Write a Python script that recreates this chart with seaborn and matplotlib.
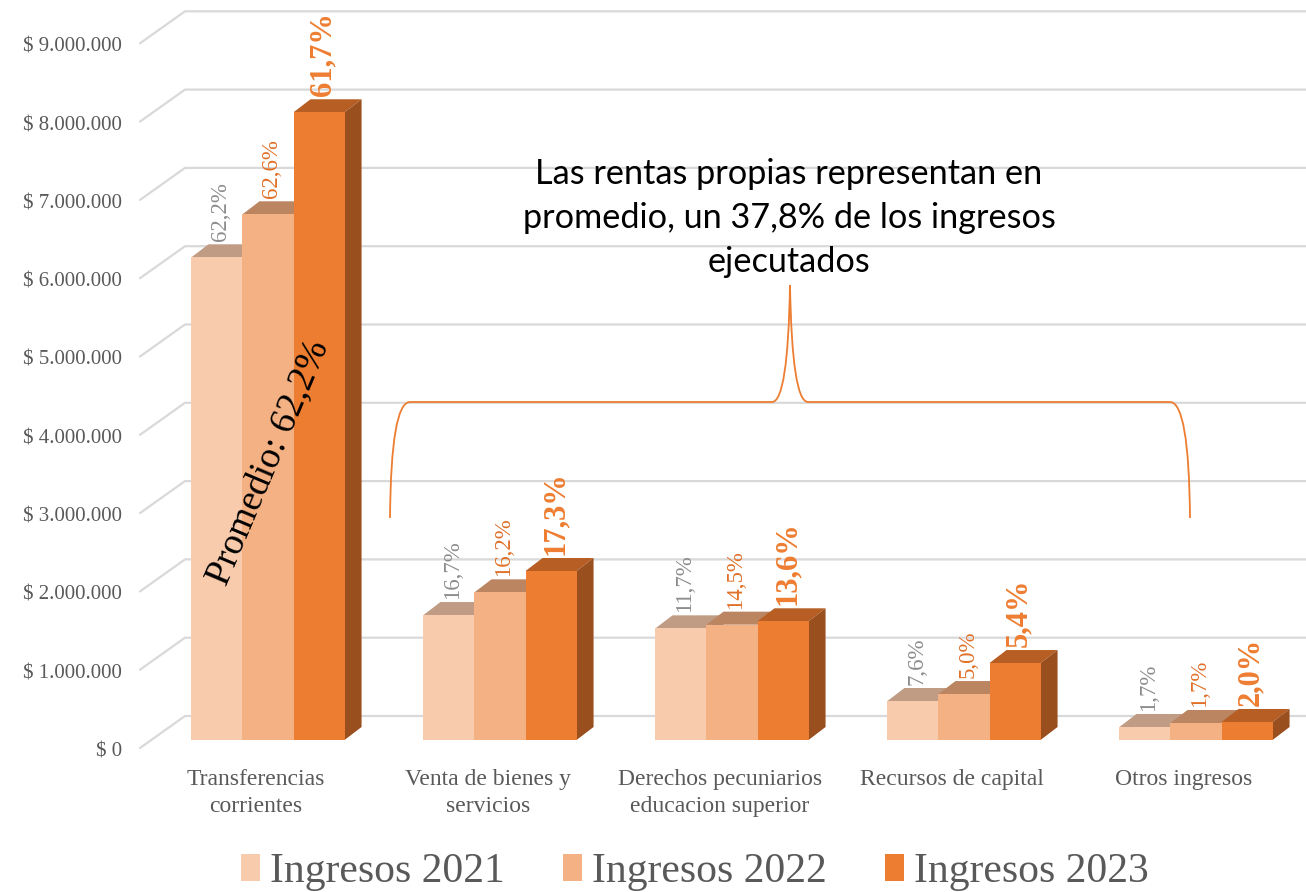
import numpy as np
import pandas as pd
import matplotlib
matplotlib.use("Agg")
import matplotlib.pyplot as plt
import matplotlib.transforms as mtransforms
from matplotlib.patches import Polygon, PathPatch, Patch
from matplotlib.path import Path
import seaborn as sns

# datos (pesos)
categorias = ["Transferencias\ncorrientes", "Venta de bienes y\nservicios",
              "Derechos pecuniarios\neducacion superior", "Recursos de capital",
              "Otros ingresos"]
series = ["Ingresos 2021", "Ingresos 2022", "Ingresos 2023"]
ingresos_2021 = [6165000, 1596000, 1426000, 498000, 166000]
ingresos_2022 = [6714000, 1886000, 1473000, 587000, 217000]
ingresos_2023 = [8017000, 2158000, 1516000, 983000, 230000]
pct_2021 = ["62,2%", "16,7%", "11,7%", "7,6%", "1,7%"]
pct_2022 = ["62,6%", "16,2%", "14,5%", "5,0%", "1,7%"]
pct_2023 = ["61,7%", "17,3%", "13,6%", "5,4%", "2,0%"]
ticks_y = [0, 1000000, 2000000, 3000000, 4000000, 5000000, 6000000, 7000000, 8000000, 9000000]

color_frente = ["#F8CBAD", "#F4B183", "#ED7D31"]
color_arriba = ["#C09C85", "#BB8562", "#B65E24"]
color_lado = ["#B08A70", "#A8744F", "#9A4F1F"]
color_etiqueta = ["#8C8C8C", "#E07028", "#ED7D31"]

df = pd.DataFrame({
    "Categoria": categorias * 3,
    "Serie": [s for s in series for _ in categorias],
    "Valor": ingresos_2021 + ingresos_2022 + ingresos_2023,
})

sns.set_style("white")
plt.rcParams["font.family"] = ["Liberation Serif", "DejaVu Serif"]

W, H = 1306, 892
fig = plt.figure(figsize=(W / 100, H / 100), dpi=100)
ax = fig.add_axes([140 / W, (H - 740) / H, 1166 / W, 9 * 78.3 / H])

sns.barplot(data=df, x="Categoria", y="Valor", hue="Serie", palette=color_frente,
            width=0.66, saturation=1, dodge=True, legend=False, ax=ax)

xmin, xmax = -128 / 232, 4 + 110 / 232
ax.set_xlim(xmin, xmax)
ax.set_ylim(0, 9000000)
for s in ax.spines.values():
    s.set_visible(False)
ax.set_xlabel("")
ax.set_ylabel("")
ax.set_yticks([])

# pixeles -> unidades de datos
px_x = (xmax - xmin) / 1166
px_y = 9000000 / (9 * 78.3)
dx, dy = 17 * px_x, 13 * px_y

# lineas de cuadricula con perspectiva (pared del fondo)
for v in ticks_y:
    xs = [xmin, xmin + 45 * px_x, xmax]
    ys = [v - 8 * px_y, v + 24 * px_y, v + 24 * px_y]
    ax.plot(xs, ys, color="#D9D9D9", lw=1.6, zorder=0, clip_on=False)
    etiqueta = "$ " + f"{v:,}".replace(",", ".")
    ax.text(xmin - 18 * px_x, v - 12 * px_y, etiqueta, ha="right", va="center",
            fontsize=15, color="#595959")

# caras 3D de las barras y etiquetas
etiquetas = [pct_2021, pct_2022, pct_2023]
for h, cont in enumerate(ax.containers):
    for i, p in enumerate(cont.patches):
        x0, w, y1 = p.get_x(), p.get_width(), p.get_height()
        x1 = x0 + w
        p.set_zorder(3 + 2 * h)
        p.set_edgecolor("none")
        arriba = Polygon([(x0, y1), (x1, y1), (x1 + dx, y1 + dy), (x0 + dx, y1 + dy)],
                         closed=True, facecolor=color_arriba[h], edgecolor="none",
                         zorder=2 + 2 * h)
        lado = Polygon([(x1, 0), (x1, y1), (x1 + dx, y1 + dy), (x1 + dx, dy)],
                       closed=True, facecolor=color_lado[h], edgecolor="none",
                       zorder=2 + 2 * h)
        ax.add_patch(arriba)
        ax.add_patch(lado)
        ax.text(x0 + w / 2 + 4 * px_x, y1 + dy + 3 * px_y, etiquetas[h][i],
                rotation=90, ha="center", va="bottom",
                fontsize=22 if h == 2 else 16.5,
                fontweight="bold" if h == 2 else "normal",
                color=color_etiqueta[h], zorder=10)

ax.set_xticks(np.arange(len(categorias)) - 12 * px_x, labels=categorias)
ax.tick_params(axis="x", length=0, pad=21, labelsize=17, labelcolor="#595959")
for lab in ax.get_xticklabels():
    lab.set_linespacing(1.35)

ax.text(0, 3550000, "Promedio: 62,2%", rotation=67, ha="center", va="center",
        rotation_mode="anchor", fontsize=27, color="black", zorder=12)

# llave y texto de rentas propias
px_fig = mtransforms.Affine2D().scale(1 / W, -1 / H).translate(0, 1) + fig.transFigure
verts = [(390, 518), (391, 402), (410, 402), (772, 402), (788, 402), (790, 285),
         (792, 402), (808, 402), (1170, 402), (1189, 402), (1190, 518)]
codes = [Path.MOVETO, Path.CURVE3, Path.CURVE3, Path.LINETO, Path.CURVE3, Path.CURVE3,
         Path.CURVE3, Path.CURVE3, Path.LINETO, Path.CURVE3, Path.CURVE3]
fig.patches.append(PathPatch(Path(verts, codes), facecolor="none", edgecolor="#ED7D31",
                             lw=1.3, transform=px_fig))
fig.text(789 / W, 1 - 218 / H,
         "Las rentas propias representan en\npromedio, un 37,8% de los ingresos\nejecutados",
         ha="center", va="center", fontsize=24.7, family=["Lato", "DejaVu Sans"],
         linespacing=1.45, color="black")

handles = [Patch(facecolor=c, edgecolor="none") for c in color_frente]
fig.legend(handles, series, loc="center", bbox_to_anchor=(695 / W, 1 - 872 / H),
           ncol=3, frameon=False, fontsize=30, labelcolor="#595959",
           handlelength=0.45, handleheight=0.6, handletextpad=0.25, columnspacing=1.4)

fig.savefig("out.png", dpi=100, facecolor="white")
